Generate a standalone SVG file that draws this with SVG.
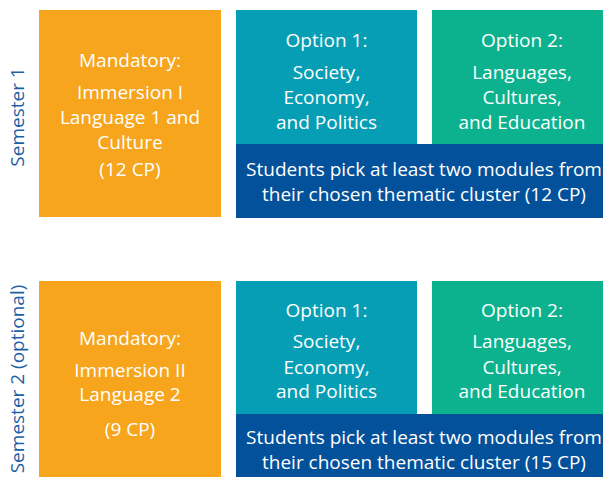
<svg xmlns="http://www.w3.org/2000/svg" width="603" height="477" viewBox="0 0 603 477">
<style>
.t{font-family:"Open Sans","Liberation Sans",sans-serif;font-size:19px;fill:#fff;text-anchor:middle}
.s{font-family:"Open Sans","Liberation Sans",sans-serif;font-size:19px;fill:#1f5fa6;text-anchor:middle}
.or{fill:#f6a51d}.te{fill:#069eb4}.gr{fill:#0cb28d}.db{fill:#04519b}
</style>
<rect width="603" height="477" fill="#fff"/>
<g id="sem1-label"><text class="s" transform="translate(24,117) rotate(-90)">Semester 1</text></g>
<g id="sem2-label"><text class="s" transform="translate(24,379) rotate(-90)">Semester 2 (optional)</text></g>
<g id="s1-mandatory"><rect class="or" x="39" y="10" width="182" height="207"/>
<text class="t" x="130" y="67">Mandatory:</text>
<text class="t" x="130" y="99">Immersion I</text>
<text class="t" x="130" y="124">Language 1 and</text>
<text class="t" x="130" y="149">Culture</text>
<text class="t" x="130" y="176">(12 CP)</text></g>
<g id="s1-opt1"><rect class="te" x="236" y="10" width="181" height="140"/>
<text class="t" x="326.5" y="47">Option 1:</text>
<text class="t" x="326.5" y="79">Society,</text>
<text class="t" x="326.5" y="104">Economy,</text>
<text class="t" x="326.5" y="129">and Politics</text></g>
<g id="s1-opt2"><rect class="gr" x="432" y="10" width="171" height="134"/>
<text class="t" x="522" y="47">Option 2:</text>
<text class="t" x="522" y="79">Languages,</text>
<text class="t" x="522" y="104">Cultures,</text>
<text class="t" x="522" y="129">and Education</text></g>
<g id="s1-pick"><rect class="db" x="236" y="144" width="367" height="74"/>
<text class="t" x="424" y="176">Students pick at least two modules from</text>
<text class="t" x="424" y="201">their chosen thematic cluster (12 CP)</text></g>
<g id="s2-mandatory"><rect class="or" x="39" y="281" width="182" height="196"/>
<text class="t" x="130" y="345">Mandatory:</text>
<text class="t" x="130" y="377">Immersion II</text>
<text class="t" x="130" y="401">Language 2</text>
<text class="t" x="130" y="436">(9 CP)</text></g>
<g id="s2-opt1"><rect class="te" x="236" y="281" width="181" height="139"/>
<text class="t" x="326.5" y="317">Option 1:</text>
<text class="t" x="326.5" y="348">Society,</text>
<text class="t" x="326.5" y="374">Economy,</text>
<text class="t" x="326.5" y="398">and Politics</text></g>
<g id="s2-opt2"><rect class="gr" x="432" y="281" width="171" height="133"/>
<text class="t" x="522" y="317">Option 2:</text>
<text class="t" x="522" y="348">Languages,</text>
<text class="t" x="522" y="374">Cultures,</text>
<text class="t" x="522" y="398">and Education</text></g>
<g id="s2-pick"><rect class="db" x="236" y="414" width="367" height="63"/>
<text class="t" x="424" y="444">Students pick at least two modules from</text>
<text class="t" x="424" y="469">their chosen thematic cluster (15 CP)</text></g>
<g id="connectors"></g>
</svg>
